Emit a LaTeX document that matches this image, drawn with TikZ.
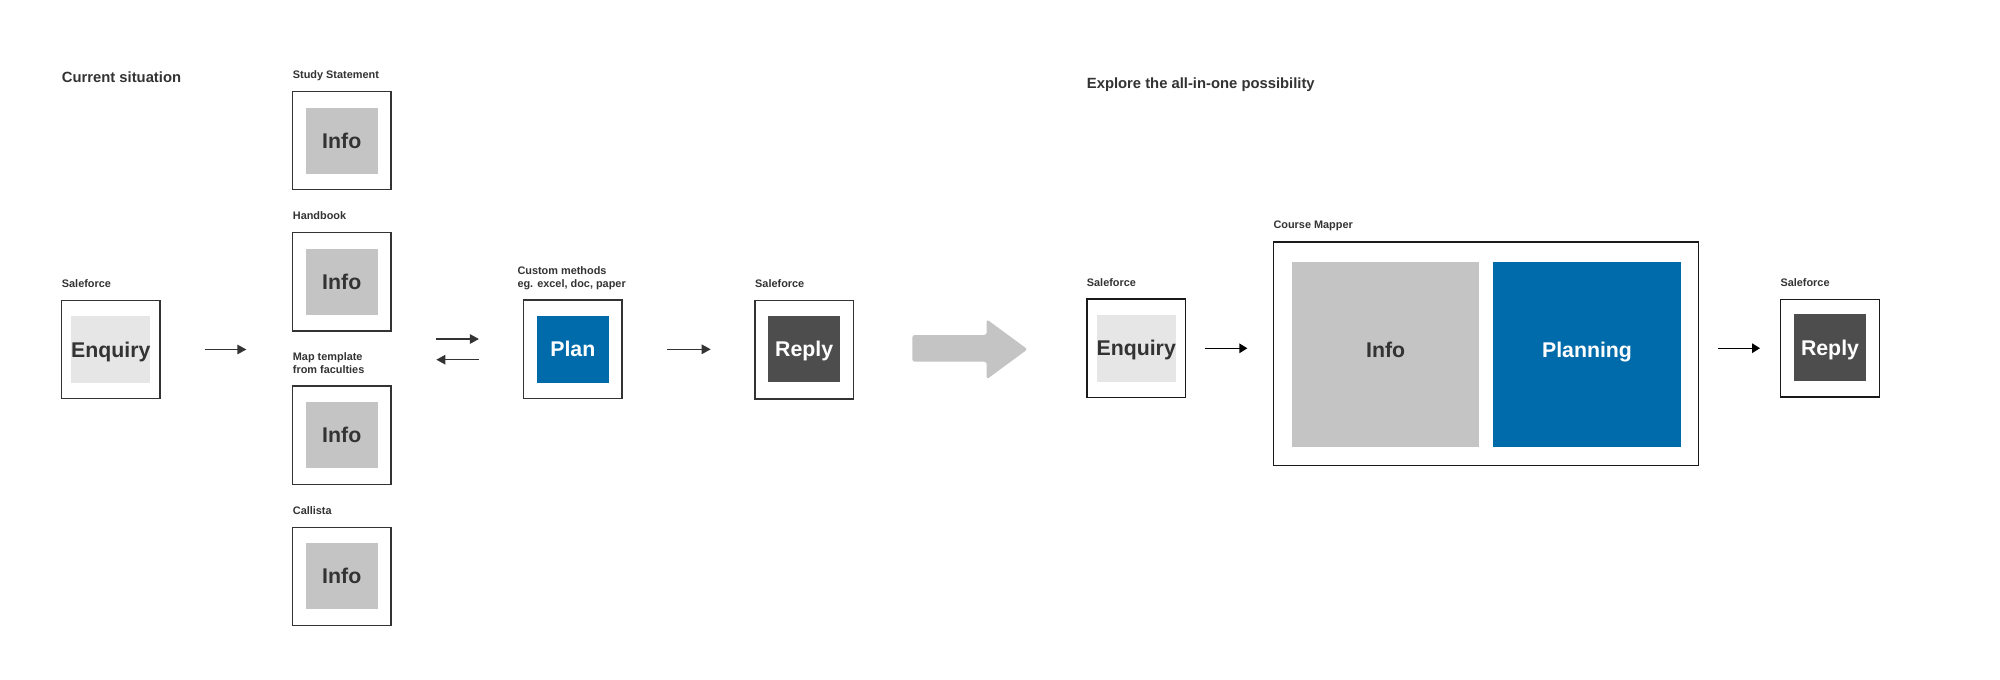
\documentclass[tikz,border=0pt]{standalone}
\usepackage{fontspec}
\setmainfont{Liberation Sans}
\usetikzlibrary{arrows.meta,calc}
\definecolor{txt}{HTML}{333333}
\definecolor{frameL}{HTML}{333333}
\definecolor{frameR}{HTML}{1A1A1A}
\definecolor{tilegray}{HTML}{C4C4C4}
\definecolor{tilelight}{HTML}{E6E6E6}
\definecolor{planblue}{HTML}{006BAA}
\definecolor{replydark}{HTML}{4D4D4D}
\definecolor{bigarrow}{HTML}{C4C4C4}
\begin{document}
\begin{tikzpicture}[x=1pt,y=1pt,
  outer/.style={draw=frameL, line width=1.3pt, fill=white, minimum width=98.5pt, minimum height=98.5pt, inner sep=0pt},
  outerR/.style={outer, draw=frameR},
  tile/.style={inner sep=0pt, font=\fontsize{21.3}{25}\selectfont\bfseries, text height=15.3pt, text depth=0pt, minimum width=71.5pt, minimum height=66.5pt},
  infotile/.style={tile, fill=tilegray, text=txt},
  enqtile/.style={tile, fill=tilelight, text=txt},
  plantile/.style={tile, fill=planblue, text=white},
  replytile/.style={tile, fill=replydark, text=white},
  lbl/.style={anchor=base west, inner sep=0pt, text=txt, font=\fontsize{10.9}{13.3}\selectfont\bfseries, align=left},
  lbltwo/.style={lbl, anchor=north west},
  heading/.style={lbl, font=\fontsize{14.8}{17}\selectfont\bfseries},
  arr/.style={draw=frameL, line width=1.3pt, -{Triangle[length=9pt,width=9.5pt]}},
  arrR/.style={arr, draw=black, line width=1.4pt, -{Triangle[length=8pt,width=9.5pt]}}
]
\fill[white] (0,0) rectangle (2000,-680);

% ---------- Current situation ----------
\node[heading] (hcur) at (61.7,-82.7) {Current situation};

\node[lbl] (lsf1) at (61.7,-287.5) {Saleforce};
\node[outer] (enq1) at (110.75,-349.5) {};
\node[enqtile] (enq1t) at (110.75,-349.5) {Enquiry};

\node[lbl] (lss) at (292.7,-78.7) {Study Statement};
\node[outer] (i1) at (341.75,-140.5) {};
\node[infotile] (i1t) at (341.75,-140.75) {Info};

\node[lbl] (lhb) at (292.7,-219.7) {Handbook};
\node[outer] (i2) at (341.75,-281.75) {};
\node[infotile] (i2t) at (341.75,-281.75) {Info};

\node[lbltwo] (lmt) at (292.7,-352.2) {Map template\\from faculties};
\node[outer] (i3) at (341.75,-435.2) {};
\node[infotile] (i3t) at (341.75,-435) {Info};

\node[lbl] (lca) at (292.7,-514.5) {Callista};
\node[outer] (i4) at (341.75,-576.5) {};
\node[infotile] (i4t) at (341.75,-576.2) {Info};

\node[lbltwo] (lcm) at (517.3,-266.5) {Custom methods\\eg. excel, doc, paper};
\node[outer] (plan) at (572.8,-349.3) {};
\node[plantile] (plant) at (572.8,-349.3) {Plan};

\node[lbl] (lsf2) at (755,-287.5) {Saleforce};
\node[outer] (rep1) at (804.2,-349.7) {};
\node[replytile] (rep1t) at (804.2,-349.2) {Reply};

\draw[arr, shorten <=44pt, shorten >=45.5pt] (enq1.east) -- (enq1.east -| i1.west);
\draw[arr, shorten <=44.7pt, shorten >=44pt] ($(plan.west -| i2.east)+(0,10.3)$) -- ($(plan.west)+(0,10.3)$);
\draw[arr, shorten <=44pt, shorten >=44.7pt] ($(plan.west)+(0,-10.4)$) -- ($(plan.west -| i2.east)+(0,-10.4)$);
\draw[arr, shorten <=44.4pt, shorten >=43.6pt] (plan.east) -- (plan.east -| rep1.west);

% ---------- big transition arrow ----------
\fill[bigarrow, rounded corners=2.5pt] (912.3,-335) -- (986.7,-335) -- (986.7,-319.3) -- (1027.5,-349.3) -- (986.7,-379.3) -- (986.7,-361.7) -- (912.3,-361.7) -- cycle;

% ---------- Explore the all-in-one possibility ----------
\node[heading] (hexp) at (1086.7,-88.3) {Explore the all-in-one possibility};

\node[lbl] (lsf3) at (1086.7,-286) {Saleforce};
\node[outerR] (enq2) at (1136.2,-348.3) {};
\node[enqtile] (enq2t) at (1136.2,-348.3) {Enquiry};

\node[lbl] (lcmap) at (1273.3,-228) {Course Mapper};
\node[outerR, minimum width=425pt, minimum height=223.3pt] (cm) at (1485.8,-353.65) {};
\node[infotile, minimum width=187.3pt, minimum height=185.6pt, text depth=9.6pt] (cmi) at (1385.65,-354.5) {Info};
\node[plantile, minimum width=187.4pt, minimum height=185.6pt, text depth=9.6pt] (cmp) at (1587,-354.5) {Planning};

\node[lbl] (lsf4) at (1780.3,-286) {Saleforce};
\node[outerR, minimum width=99.4pt, minimum height=97.7pt] (rep2) at (1830,-348.2) {};
\node[replytile] (rep2t) at (1830,-347.5) {Reply};

\draw[arrR, shorten <=19.3pt, shorten >=25.3pt] (enq2.east) -- (enq2.east -| cm.west);
\draw[arrR, shorten <=19pt, shorten >=19.6pt] (rep2.west -| cm.east) -- (rep2.west);
\end{tikzpicture}
\end{document}
